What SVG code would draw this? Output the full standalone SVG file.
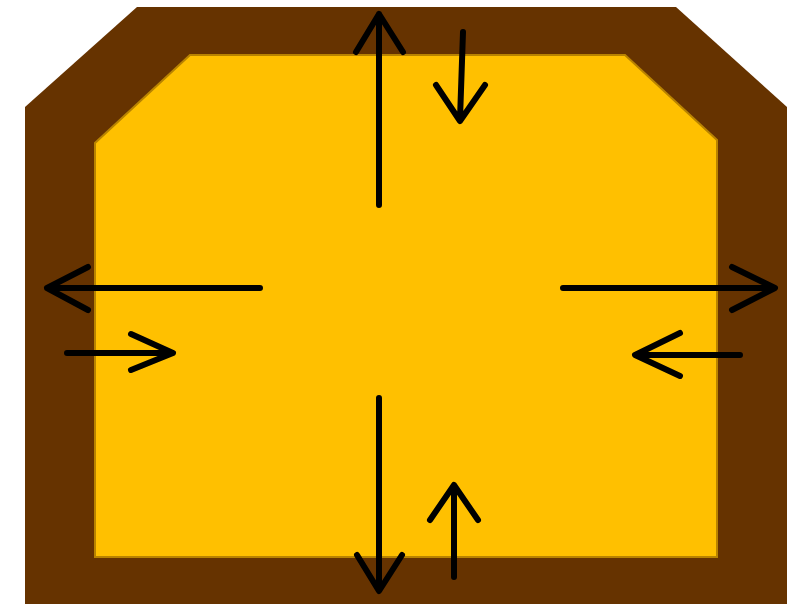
<svg xmlns="http://www.w3.org/2000/svg" width="798" height="606" viewBox="0 0 798 606">
<style>
.outer{fill:#663300;}
.inner{fill:#ffc000;stroke:#b88300;stroke-width:2;}
.arr{fill:none;stroke:#000;stroke-width:6;stroke-linecap:round;stroke-linejoin:round;}
</style>
<rect width="798" height="606" fill="#ffffff"/>
<g id="outer-wall">
<polygon class="outer" points="137,7 676,7 787,107 787,604 25,604 25,107"/>
</g>
<g id="inner-core">
<polygon class="inner" points="190,55 625,55 717,140 717,557 95,557 95,143"/>
</g>
<g id="connectors">
<path class="arr" d="M379,205 L379,14 M356,52 L379,14 L403,52"/>
<path class="arr" d="M463,32 L460,119 M436,85 L460,121 L485,85"/>
<path class="arr" d="M260,288 L47,288 M88,267 L47,288 L88,310"/>
<path class="arr" d="M67,353 L171,353 M131,334 L173,353 L131,370"/>
<path class="arr" d="M563,288 L773,288 M732,267 L775,288 L732,310"/>
<path class="arr" d="M740,355 L637,355 M680,333 L635,355 L680,376"/>
<path class="arr" d="M379,398 L379,589 M357,555 L379,591 L402,555"/>
<path class="arr" d="M454,577 L454,487 M430,520 L454,485 L478,520"/>
</g>
</svg>
